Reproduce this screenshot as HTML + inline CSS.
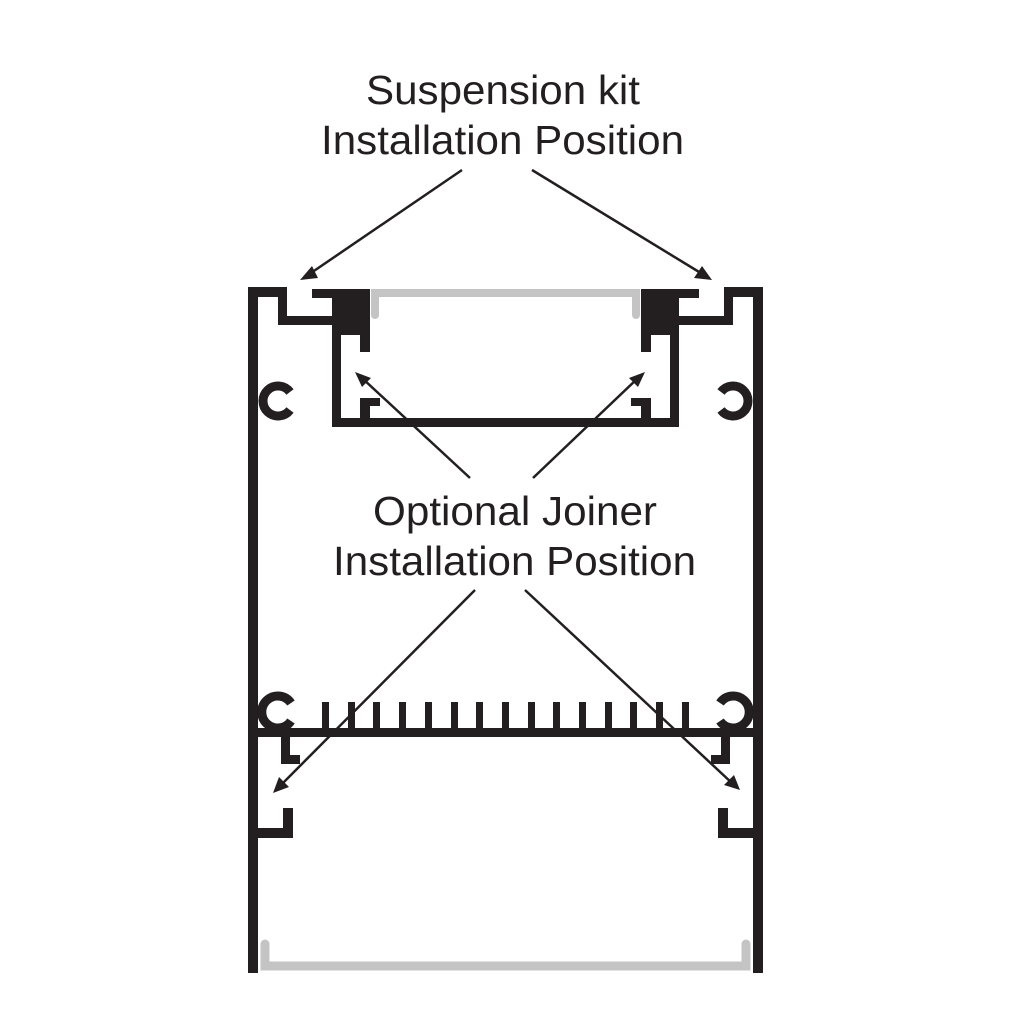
<!DOCTYPE html>
<html><head><style>
html,body{margin:0;padding:0;background:#fff;}
svg{display:block;}
text{font-family:"Liberation Sans",Arial,sans-serif;fill:#231f20;}
</style></head><body>
<svg width="1024" height="1024" viewBox="0 0 1024 1024" xmlns="http://www.w3.org/2000/svg">
<defs>
<g id="half" fill="#231f20">
  <rect x="248" y="287" width="10" height="686"/>
  <rect x="248" y="287" width="39" height="10"/>
  <rect x="278" y="287" width="9" height="38"/>
  <rect x="278" y="316" width="56" height="9"/>
  <rect x="312" y="289" width="58" height="9"/>
  <rect x="332" y="289" width="38" height="46"/>
  <rect x="360" y="330" width="10" height="22"/>
  <rect x="332" y="330" width="9" height="97"/>
  <rect x="332" y="418" width="174" height="9"/>
  <rect x="360" y="398" width="10" height="22"/>
  <rect x="360" y="398" width="20" height="8"/>
  <path d="M290 392 A15 15 0 1 0 290 410" fill="none" stroke="#231f20" stroke-width="9"/>
  <path d="M291 703 A16 16 0 1 0 291 721" fill="none" stroke="#231f20" stroke-width="9"/>
  <rect x="258" y="728" width="248" height="9"/>
  <rect x="281" y="737" width="9" height="27"/>
  <rect x="281" y="755" width="19" height="9"/>
  <rect x="283" y="808" width="10" height="30"/>
  <rect x="258" y="828" width="35" height="10"/>
  <path d="M375 315 V293 H506" fill="none" stroke="#c4c4c4" stroke-width="8" stroke-linecap="round"/>
  <path d="M265 944 V966 H506" fill="none" stroke="#c4c4c4" stroke-width="9" stroke-linecap="round"/>
</g>
</defs>
<use href="#half"/>
<use href="#half" transform="translate(1011,0) scale(-1,1)"/>
<g fill="#231f20">
  <rect x="322" y="702" width="7" height="27"/>
  <rect x="348" y="702" width="7" height="27"/>
  <rect x="373" y="702" width="7" height="27"/>
  <rect x="399" y="702" width="7" height="27"/>
  <rect x="425" y="702" width="7" height="27"/>
  <rect x="451" y="702" width="7" height="27"/>
  <rect x="476" y="702" width="7" height="27"/>
  <rect x="502" y="702" width="7" height="27"/>
  <rect x="528" y="702" width="7" height="27"/>
  <rect x="553" y="702" width="7" height="27"/>
  <rect x="579" y="702" width="7" height="27"/>
  <rect x="605" y="702" width="7" height="27"/>
  <rect x="630" y="702" width="7" height="27"/>
  <rect x="656" y="702" width="7" height="27"/>
  <rect x="682" y="702" width="7" height="27"/>
</g>
<g stroke="#231f20" stroke-width="2.5" fill="#231f20">
  <line x1="462" y1="170" x2="308" y2="275"/>
  <line x1="532" y1="170" x2="704" y2="275"/>
  <line x1="470" y1="478" x2="362" y2="378"/>
  <line x1="533" y1="478" x2="638" y2="378"/>
  <line x1="475" y1="590" x2="280" y2="786"/>
  <line x1="525" y1="590" x2="733" y2="784"/>
</g>
<g fill="#231f20">
  <polygon points="300,280 312,266 318,278"/>
  <polygon points="712,280 694,278 702,266"/>
  <polygon points="355,372 371,378 362,387"/>
  <polygon points="645,372 638,387 629,378"/>
  <polygon points="273,793 279,777 289,787"/>
  <polygon points="740,790 724,785 734,775"/>
</g>
<text x="366" y="104" font-size="41" textLength="274" lengthAdjust="spacingAndGlyphs">Suspension kit</text>
<text x="321" y="154" font-size="41" textLength="363" lengthAdjust="spacingAndGlyphs">Installation Position</text>
<text x="373" y="525" font-size="41" textLength="284" lengthAdjust="spacingAndGlyphs">Optional Joiner</text>
<text x="333" y="575" font-size="41" textLength="363" lengthAdjust="spacingAndGlyphs">Installation Position</text>
</svg>
</body></html>
